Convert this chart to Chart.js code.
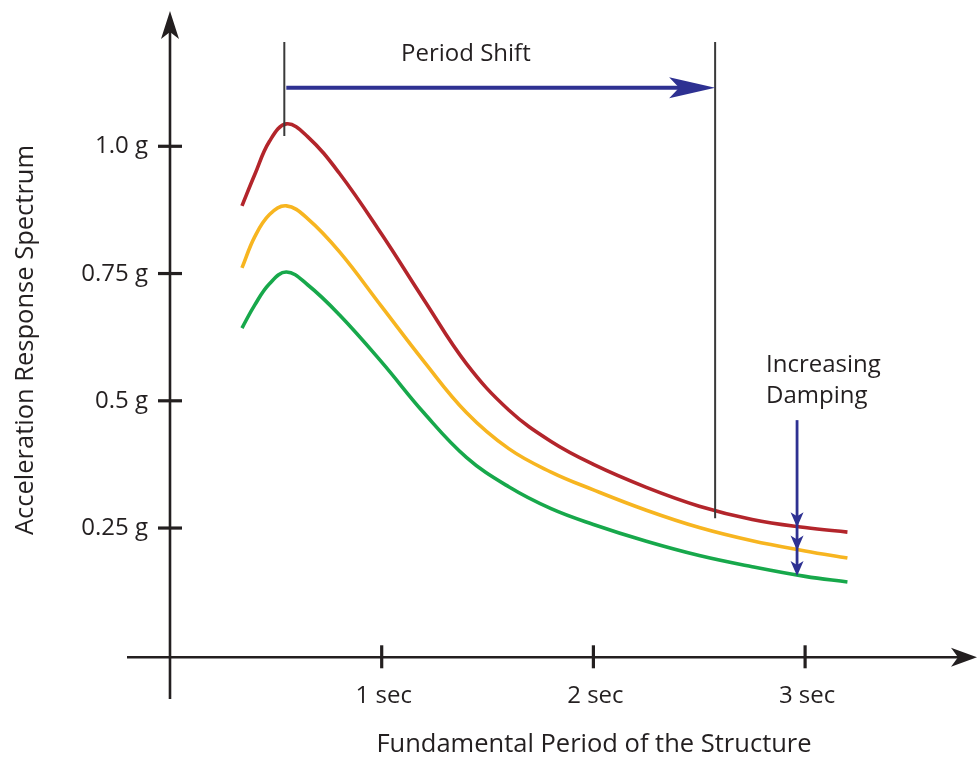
<!DOCTYPE html>
<html>
<head>
<meta charset="utf-8">
<title>Acceleration Response Spectrum</title>
<script src="https://cdn.jsdelivr.net/npm/chart.js@4.4.1/dist/chart.umd.min.js"></script>
<style>
  html, body { margin: 0; padding: 0; background: #fff; }
  #spectrumChart { display: block; }
</style>
</head>
<body>
<canvas id="spectrumChart" width="977" height="763"></canvas>
<script>
// Period (sec) sampled along the curves
const periods = [0.34, 0.40, 0.47, 0.55, 0.65, 0.80, 1.0, 1.2, 1.4, 1.6, 1.8, 2.0, 2.25, 2.5, 2.75, 3.0, 3.2];
// Spectral acceleration (g) for three damping levels
const lowDamping = [0.883, 0.944, 1.010, 1.044, 1.019, 0.947, 0.827, 0.698, 0.573, 0.482, 0.420, 0.375, 0.330, 0.293, 0.267, 0.251, 0.242];
const midDamping = [0.761, 0.822, 0.866, 0.883, 0.858, 0.793, 0.685, 0.577, 0.477, 0.406, 0.360, 0.325, 0.285, 0.251, 0.225, 0.205, 0.191];
const highDamping = [0.643, 0.688, 0.730, 0.753, 0.728, 0.669, 0.576, 0.476, 0.389, 0.331, 0.288, 0.257, 0.224, 0.196, 0.174, 0.155, 0.144];

const xTicks = [1, 2, 3];
const xTickLabels = ['1 sec', '2 sec', '3 sec'];
const yTicks = [0.25, 0.5, 0.75, 1.0];
const yTickLabels = ['0.25 g', '0.5 g', '0.75 g', '1.0 g'];

const xTitle = 'Fundamental Period of the Structure';
const yTitle = 'Acceleration Response Spectrum';
const shiftLabel = 'Period Shift';
const dampingLabel = ['Increasing', 'Damping'];

// annotation anchors in data units
const shiftFrom = 0.54, shiftTo = 2.575, shiftLevel = 1.115, markerTop = 1.205;
const dampingAt = 2.962, dampingTop = 0.462;

const FONT = '24px "Open Sans", sans-serif';
const TITLE_FONT = '25.5px "Open Sans", sans-serif';
const INK = '#231f20';
const BLUE = '#2e3192';

function toPoints(ys) {
  return periods.map((p, i) => ({ x: p, y: ys[i] }));
}

function valueAt(ys, p) {
  for (let i = 1; i < periods.length; i++) {
    if (p <= periods[i]) {
      const t = (p - periods[i - 1]) / (periods[i] - periods[i - 1]);
      return ys[i - 1] + t * (ys[i] - ys[i - 1]);
    }
  }
  return ys[ys.length - 1];
}

// notched arrow head pointing along angle dir, tip at (tx, ty)
function stealth(ctx, tx, ty, dir, len, half, notch) {
  ctx.save();
  ctx.translate(tx, ty);
  ctx.rotate(dir);
  ctx.beginPath();
  ctx.moveTo(0, 0);
  ctx.lineTo(-len, -half);
  ctx.lineTo(-len + notch, 0);
  ctx.lineTo(-len, half);
  ctx.closePath();
  ctx.fill();
  ctx.restore();
}

const axesPlugin = {
  id: 'axesPlugin',
  beforeDatasetsDraw(chart) {
    const { ctx } = chart;
    const xs = chart.scales.x, ys = chart.scales.y;
    const x0 = xs.getPixelForValue(0);
    const y0 = ys.getPixelForValue(0) + 2;

    ctx.save();
    ctx.strokeStyle = INK;
    ctx.fillStyle = INK;

    // y axis
    ctx.lineWidth = 2.6;
    ctx.beginPath();
    ctx.moveTo(x0, 699);
    ctx.lineTo(x0, 30);
    ctx.stroke();
    stealth(ctx, x0, 11, -Math.PI / 2, 28, 9, 7);

    // x axis
    ctx.beginPath();
    ctx.moveTo(127, y0);
    ctx.lineTo(960, y0);
    ctx.stroke();
    stealth(ctx, 977, y0, 0, 26, 9.5, 7);

    // ticks
    ctx.lineWidth = 3.2;
    yTicks.forEach(v => {
      const py = ys.getPixelForValue(v);
      ctx.beginPath();
      ctx.moveTo(x0 - 12, py);
      ctx.lineTo(x0 + 12, py);
      ctx.stroke();
    });
    xTicks.forEach(v => {
      const px = xs.getPixelForValue(v);
      ctx.beginPath();
      ctx.moveTo(px, y0 - 12);
      ctx.lineTo(px, y0 + 11);
      ctx.stroke();
    });

    // tick labels
    ctx.font = FONT;
    ctx.textBaseline = 'alphabetic';
    ctx.textAlign = 'right';
    yTicks.forEach((v, i) => {
      ctx.fillText(yTickLabels[i], x0 - 22, ys.getPixelForValue(v) + 7);
    });
    ctx.textAlign = 'center';
    xTicks.forEach((v, i) => {
      ctx.fillText(xTickLabels[i], xs.getPixelForValue(v) + 2, 703);
    });

    // axis titles
    ctx.font = TITLE_FONT;
    ctx.fillText(xTitle, 594, 752);
    ctx.save();
    ctx.translate(33, 340);
    ctx.rotate(-Math.PI / 2);
    ctx.fillText(yTitle, 0, 0);
    ctx.restore();
    ctx.restore();
  },
  afterDatasetsDraw(chart) {
    const { ctx } = chart;
    const xs = chart.scales.x, ys = chart.scales.y;
    ctx.save();

    // period shift markers
    const xa = xs.getPixelForValue(shiftFrom);
    const xb = xs.getPixelForValue(shiftTo);
    const top = ys.getPixelForValue(markerTop);
    ctx.strokeStyle = '#3a3a3a';
    ctx.lineWidth = 2;
    ctx.beginPath();
    ctx.moveTo(xa, top);
    ctx.lineTo(xa, ys.getPixelForValue(valueAt(lowDamping, shiftFrom)) + 10);
    ctx.moveTo(xb, top);
    ctx.lineTo(xb, ys.getPixelForValue(valueAt(lowDamping, shiftTo)) + 8);
    ctx.stroke();

    // period shift arrow
    const ly = ys.getPixelForValue(shiftLevel);
    ctx.strokeStyle = BLUE;
    ctx.fillStyle = BLUE;
    ctx.lineWidth = 4.2;
    ctx.beginPath();
    ctx.moveTo(xa + 2, ly);
    ctx.lineTo(xb - 30, ly);
    ctx.stroke();
    stealth(ctx, xb, ly, 0, 46, 10.5, 10);

    // damping arrow
    const dx = xs.getPixelForValue(dampingAt);
    const tips = [lowDamping, midDamping, highDamping].map(s => ys.getPixelForValue(valueAt(s, dampingAt)));
    ctx.lineWidth = 2.8;
    ctx.beginPath();
    ctx.moveTo(dx, ys.getPixelForValue(dampingTop));
    ctx.lineTo(dx, tips[2] - 4);
    ctx.stroke();
    tips.forEach(t => stealth(ctx, dx, t + 1, Math.PI / 2, 15, 6.5, 4));

    // labels
    ctx.fillStyle = INK;
    ctx.font = FONT;
    ctx.textAlign = 'left';
    ctx.textBaseline = 'alphabetic';
    ctx.fillText(shiftLabel, 401, 61);
    ctx.fillText(dampingLabel[0], 766, 372);
    ctx.fillText(dampingLabel[1], 766, 403);
    ctx.restore();
  }
};

const ctx = document.getElementById('spectrumChart').getContext('2d');
new Chart(ctx, {
  type: 'line',
  data: {
    datasets: [
      { label: 'Low damping', data: toPoints(lowDamping), borderColor: '#b3252b' },
      { label: 'Medium damping', data: toPoints(midDamping), borderColor: '#f7b520' },
      { label: 'High damping', data: toPoints(highDamping), borderColor: '#17a84b' }
    ]
  },
  options: {
    responsive: false,
    animation: false,
    layout: { padding: 0 },
    elements: {
      point: { radius: 0 },
      line: { borderWidth: 3.6, tension: 0.4, borderCapStyle: 'butt' }
    },
    plugins: {
      legend: { display: false },
      tooltip: { enabled: false }
    },
    scales: {
      x: { type: 'linear', min: -0.803, max: 3.812, display: false },
      y: { min: -0.2116, max: 1.2874, display: false }
    }
  },
  plugins: [axesPlugin]
});
</script>
</body>
</html>
